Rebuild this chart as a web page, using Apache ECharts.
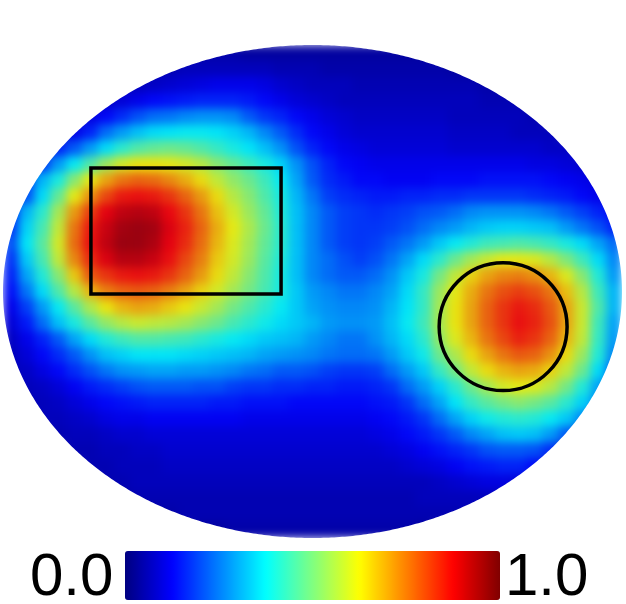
<!DOCTYPE html>
<html><head><meta charset="utf-8">
<script src="https://cdn.jsdelivr.net/npm/echarts@6/dist/echarts.min.js"></script>
<style>
html,body{margin:0;padding:0;background:#fff}
#wrap{position:relative;width:626px;height:604px;overflow:hidden;background:#fff}
#heat,#over{position:absolute;left:0;top:0;width:626px;height:604px}
#heat{filter:blur(5px)}
</style>
</head><body><div id="wrap"><div id="heat"></div><div id="over"></div></div>
<script>
// ---- data (values in hundredths, one string per grid row, centred on the middle column) ----
const NX = 39, NY = 31;
const xCats = Array.from({length: NX}, (_, i) => String(i));
const yCats = Array.from({length: NY}, (_, j) => String(j));
const heatRows = [
"04 04 04 03 03 03 03 03 03 03 03 03 03 03 03",
"05 05 06 06 06 06 06 06 05 05 05 04 04 04 04 04 04 04 04 03 03",
"06 06 07 08 09 10 11 11 11 10 08 07 06 06 06 05 05 05 05 05 05 05 05 04 04",
"07 09 11 13 14 15 16 16 16 15 13 11 09 08 07 06 06 06 06 06 06 06 06 06 05 05 05",
"10 13 17 21 24 25 27 28 28 27 22 18 16 13 11 09 08 07 07 07 07 07 07 06 06 06 06 06 05",
"11 16 24 29 33 36 37 38 38 37 35 32 27 22 17 13 11 09 08 08 08 08 08 08 07 07 07 07 06 06 06",
"16 22 29 36 42 46 48 49 48 46 43 40 37 33 28 21 16 13 11 10 09 09 09 09 09 08 08 08 08 08 08 07 07",
"18 29 38 46 54 60 63 63 62 60 57 52 48 44 40 35 28 21 16 13 12 11 11 11 11 11 11 11 11 11 11 10 10 09 08",
"18 32 40 52 62 70 75 77 76 73 69 64 58 53 49 44 38 30 22 17 15 13 13 12 12 12 13 13 13 14 14 14 14 13 12 11 09",
"21 36 48 62 72 80 85 86 85 82 77 71 64 57 52 46 40 32 25 19 17 16 15 15 16 16 17 17 18 18 18 18 17 16 15 13 11",
"16 32 42 55 71 81 88 92 93 92 87 82 75 67 60 54 48 41 33 27 22 19 18 17 18 19 21 22 24 27 28 28 28 27 25 22 19 16 13",
"18 35 45 58 75 85 91 95 96 95 89 84 77 69 62 56 49 42 33 27 22 19 18 18 19 21 24 27 29 32 34 35 35 34 33 29 25 21 16",
"21 37 47 60 76 86 92 96 96 94 88 83 76 68 61 55 48 42 33 27 22 19 18 19 22 25 29 34 38 41 44 45 46 45 43 40 36 30 24",
"18 34 45 58 73 83 89 93 93 91 86 80 74 66 60 54 47 41 33 27 24 21 19 21 25 30 36 42 49 55 59 62 62 61 57 51 44 36 27",
"16 30 41 52 66 78 82 85 86 85 82 77 71 64 58 52 46 40 33 27 24 22 22 24 28 34 40 50 58 65 70 73 74 72 68 61 52 41 29",
"14 25 36 46 57 68 74 77 78 77 74 70 65 60 55 50 45 40 34 29 27 25 25 27 30 36 43 54 62 69 75 79 81 79 75 67 57 44 32",
"11 19 29 38 47 56 63 68 70 69 66 63 59 55 50 46 42 38 34 30 28 27 27 28 32 37 43 55 63 70 77 82 85 83 78 70 59 46 32",
"09 15 24 33 40 47 53 57 59 58 57 55 52 49 45 42 39 36 34 32 29 28 28 29 33 38 44 55 63 70 77 82 86 84 79 70 59 44 30",
"07 11 16 22 30 36 41 44 46 46 45 44 42 40 38 36 34 33 32 29 27 25 25 28 32 36 42 53 61 68 75 80 84 82 77 68 58 43 29",
"06 09 13 17 22 28 33 35 37 37 37 36 35 34 33 32 30 29 28 27 25 24 24 25 29 34 39 49 56 64 70 75 78 77 72 64 54 41 27",
"06 07 10 13 17 21 25 28 29 30 30 29 29 28 27 25 24 22 22 21 19 18 18 19 24 29 34 43 50 58 64 68 70 69 65 58 49 36 22",
"06 07 09 12 15 17 19 21 22 22 22 21 21 19 18 18 17 17 16 16 15 15 16 18 24 29 35 42 49 55 60 62 61 57 50 41 30",
"05 06 07 09 11 13 14 15 16 16 16 16 15 15 14 14 14 13 13 13 13 13 14 15 18 24 30 37 43 47 50 52 50 47 42 35 27",
"06 06 07 08 10 11 11 12 12 12 12 12 12 11 11 11 11 11 11 11 11 12 13 15 18 24 30 35 39 41 42 41 38 34 27",
"05 06 06 07 08 08 09 09 09 09 09 09 09 09 09 09 09 09 09 09 10 11 13 15 18 22 27 30 33 34 33 29 22",
"05 05 06 06 07 07 08 08 08 08 08 08 08 08 08 08 08 08 08 08 09 10 12 14 16 18 21 22 22 21 17",
"05 05 06 06 06 07 07 07 07 07 07 07 07 07 07 07 07 07 07 07 08 09 10 12 14 15 16 16 13",
"05 05 06 06 06 06 06 06 06 06 06 06 06 06 06 06 06 06 06 06 06 07 08 09 10 10 09",
"04 05 05 05 05 05 05 05 05 05 05 05 05 05 05 05 05 05 05 06 06 06 06 06 06",
"04 04 05 05 05 05 05 05 05 05 05 05 05 05 05 05 05 05 05 05 05",
"03 03 04 04 04 04 04 04 04 04 04 04 04 04 03"
];
// overlay shapes, in grid-cell units (x: columns, y: rows)
const rectX = [5.54, 17.52];
const rectY = [7.73, 15.66];
const circleCenter = [31.51, 17.71];
const circleRadius = 4.03;
const scaleLabels = ['0.0', '1.0'];
const scaleRange = [0, 1];

// ---- layout / style ----
const G = {left: 3, top: 45, width: 619, height: 493};
const jet = ['#000080','#0000ff','#0080ff','#00ffff','#80ff80','#ffff00','#ff8000','#ff0000','#800000'];

const heatData = [];
heatRows.forEach((row, j) => {
  const t = row.trim().split(/\s+/);
  const off = Math.round((NX - t.length) / 2);
  t.forEach((v, k) => heatData.push([off + k, j, (+v) / 100]));
});

// white mask outside the elliptical domain (layout only)
const cx = G.left + G.width / 2, cy = G.top + G.height / 2;
const rx = G.width / 2, ry = G.height / 2;
const maskPts = [[646, cy], [646, -20], [-20, -20], [-20, 550], [646, 550], [646, cy]];
const NSEG = 720;
for (let k = 0; k <= NSEG; k++) {
  const a = 2 * Math.PI * k / NSEG;
  maskPts.push([cx + rx * Math.cos(a), cy + ry * Math.sin(a)]);
}
const pxPerUnit = G.width / NX;
const rectLine = [[rectX[0], rectY[0]], [rectX[1], rectY[0]], [rectX[1], rectY[1]], [rectX[0], rectY[1]], [rectX[0], rectY[0]]];
const hiddenAxis = {axisLine: {show: false}, axisTick: {show: false}, axisLabel: {show: false}, splitLine: {show: false}};

// bottom layer: the heat cells
const heatChart = echarts.init(document.getElementById('heat'), null, {renderer: 'canvas'});
heatChart.setOption({
  animation: false,
  backgroundColor: 'transparent',
  grid: Object.assign({show: true, backgroundColor: '#1c1cb0', borderWidth: 0}, G),
  xAxis: Object.assign({type: 'category', data: xCats}, hiddenAxis),
  yAxis: Object.assign({type: 'category', data: yCats, inverse: true}, hiddenAxis),
  visualMap: {type: 'continuous', show: false, min: scaleRange[0], max: scaleRange[1], dimension: 2,
              seriesIndex: 0, inRange: {color: jet}},
  series: [{type: 'heatmap', data: heatData, silent: true, itemStyle: {borderWidth: 0, opacity: 0.9}}]
});

// top layer: mask, outlines, colour bar, labels
const overChart = echarts.init(document.getElementById('over'), null, {renderer: 'canvas'});
overChart.setOption({
  animation: false,
  backgroundColor: 'transparent',
  grid: Object.assign({}, G),
  xAxis: Object.assign({type: 'value', min: 0, max: NX}, hiddenAxis),
  yAxis: Object.assign({type: 'value', min: 0, max: NY, inverse: true}, hiddenAxis),
  visualMap: {
    type: 'continuous', min: scaleRange[0], max: scaleRange[1], seriesIndex: [],
    calculable: false, orient: 'horizontal', left: 125, top: 551,
    itemWidth: 49, itemHeight: 375, padding: 0,
    inRange: {color: jet}, hoverLink: false
  },
  series: [
    {type: 'line', data: rectLine, symbol: 'none', silent: true, z: 5,
     lineStyle: {color: '#000', width: 3.5, cap: 'square', join: 'miter'}},
    {type: 'scatter', data: [circleCenter], symbol: 'circle', z: 5,
     symbolSize: 2 * circleRadius * pxPerUnit, silent: true,
     itemStyle: {color: 'rgba(0,0,0,0)', borderColor: '#000', borderWidth: 3.5, opacity: 1}}
  ],
  graphic: [
    {type: 'polygon', z: 1, silent: true, shape: {points: maskPts}, style: {fill: '#fff'}},
    {type: 'text', z: 60, x: 30, y: 578, silent: true,
     style: {text: scaleLabels[0], font: '60px "Liberation Sans"', fill: '#000', align: 'left', verticalAlign: 'middle'}},
    {type: 'text', z: 60, x: 505, y: 578, silent: true,
     style: {text: scaleLabels[1], font: '60px "Liberation Sans"', fill: '#000', align: 'left', verticalAlign: 'middle'}}
  ]
});
</script>
</body></html>
